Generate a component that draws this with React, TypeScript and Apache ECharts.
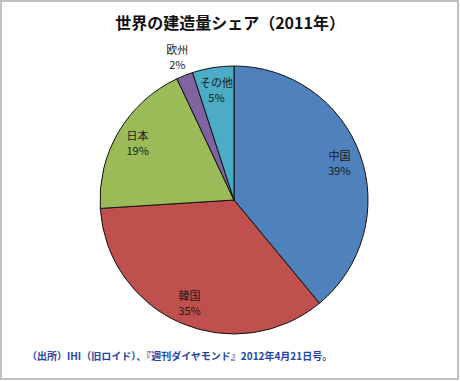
import React, { useEffect, useRef } from "react";
import * as echarts from "echarts";

const categories = ["中国", "韓国", "日本", "欧州", "その他"];
const shares = [39, 35, 19, 2, 5];
const colors = ["#4F81BD", "#C0504D", "#9BBB59", "#8064A2", "#4BACC6"];
const titleText = "世界の建造量シェア（2011年）";
const sourceText = "（出所）IHI（旧ロイド）、『週刊ダイヤモンド』2012年4月21日号。";

const FONT = "'Noto Sans CJK JP', 'Noto Sans', sans-serif";

export default function App() {
  const ref = useRef<HTMLDivElement>(null);
  useEffect(() => {
    document.body.style.margin = "0";
    if (!ref.current) return;
    const chart = echarts.init(ref.current, null, { renderer: "svg" });
    const baseData = categories.map((name, i) => ({
      name,
      value: shares[i],
      itemStyle: { color: colors[i] },
    }));
    const center = [234, 200];
    const labelStyle = {
      show: true,
      position: "inside" as const,
      formatter: "{b}\n{c}%",
      fontFamily: FONT,
      fontSize: 11,
      lineHeight: 15,
      color: "#1a1a1a",
    };
    chart.setOption({
      animation: false,
      backgroundColor: "#ffffff",
      title: {
        text: titleText,
        left: "center",
        top: 9,
        textStyle: { fontFamily: FONT, fontSize: 16, fontWeight: "bold", color: "#111" },
      },
      graphic: [
        {
          type: "rect",
          shape: { x: 1, y: 1, width: 457, height: 378 },
          style: { fill: "none", stroke: "#c0c0c0", lineWidth: 2 },
          silent: true,
        },
        {
          type: "text",
          left: 27,
          top: 350,
          style: {
            text: sourceText,
            fontFamily: FONT,
            fontSize: 10,
            fontWeight: "bold",
            fill: "#1d45a6",
          },
        },
      ],
      series: [
        {
          type: "pie",
          center,
          radius: 134,
          startAngle: 90,
          clockwise: true,
          label: { show: false },
          labelLine: { show: false },
          itemStyle: { borderColor: "#111", borderWidth: 1 },
          emphasis: { disabled: true },
          silent: true,
          data: baseData,
        },
        {
          type: "pie",
          center,
          radius: [84, 134],
          startAngle: 90,
          clockwise: true,
          silent: true,
          emphasis: { disabled: true },
          itemStyle: { color: "transparent", borderWidth: 0 },
          labelLine: { show: false },
          data: categories.map((name, i) => ({
            name,
            value: shares[i],
            itemStyle: { color: "transparent" },
            label: { ...labelStyle, show: name !== "欧州" },
          })),
        },
        {
          type: "pie",
          center,
          radius: [134, 168],
          startAngle: 90,
          clockwise: true,
          silent: true,
          emphasis: { disabled: true },
          itemStyle: { color: "transparent", borderWidth: 0 },
          labelLine: { show: false },
          data: categories.map((name, i) => ({
            name,
            value: shares[i],
            itemStyle: { color: "transparent" },
            label: { ...labelStyle, show: name === "欧州" },
          })),
        },
      ],
    });
    return () => chart.dispose();
  }, []);
  return (
    <div
      ref={ref}
      style={{ position: "absolute", left: 0, top: 0, width: 460, height: 381 }}
    />
  );
}
